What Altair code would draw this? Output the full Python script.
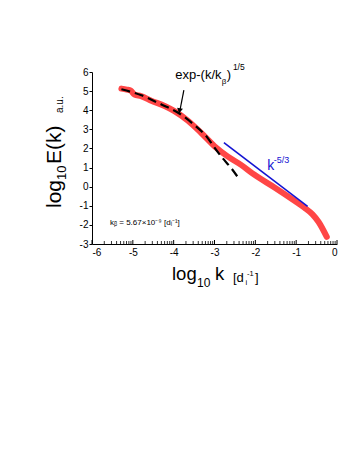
import altair as alt
import pandas as pd
import numpy as np

FONT = "Liberation Sans"

# measured spectrum (red)
red_x = [-5.28, -5.15, -5.05, -4.96, -4.80, -4.55, -4.22, -3.98, -3.65, -3.33, -3.00,
         -2.67, -2.35, -2.02, -1.53, -1.04, -0.80, -0.60, -0.45, -0.25]
red_y = [5.13, 5.08, 5.02, 4.82, 4.74, 4.50, 4.22, 3.95, 3.45, 2.82, 2.12,
         1.57, 1.14, 0.62, -0.04, -0.74, -1.10, -1.45, -1.85, -2.63]

# stretched-exponential fit (black dashed)
fit_x = [-5.28, -4.79, -4.30, -3.86, -3.49, -3.16, -3.00, -2.80, -2.59, -2.41]
fit_y = [5.10, 4.78, 4.30, 3.83, 3.22, 2.53, 2.04, 1.49, 0.97, 0.44]

# k^-5/3 reference line (blue)
ref_x = [-2.77, -0.72]
ref_y = [2.30, -1.03]

x_major = [-6, -5, -4, -3, -2, -1, 0]
y_major = [-3, -2, -1, 0, 1, 2, 3, 4, 5, 6]
x_minor = [d + np.log10(n) for d in [-6, -5, -4, -3, -2, -1] for n in range(2, 10)]

W, H = 245, 172
BLUE = "#1414d2"
xs = alt.Scale(domain=[-6, 0], nice=False, zero=False)
ys = alt.Scale(domain=[-3, 6], nice=False, zero=False)

red_df = pd.DataFrame({"x": red_x, "y": red_y, "o": range(len(red_x))})
fit_df = pd.DataFrame({"x": fit_x, "y": fit_y, "o": range(len(fit_x))})
ref_df = pd.DataFrame({"x": ref_x, "y": ref_y})

X_AX = alt.Axis(values=x_major, labelExpr="'' + datum.value", ticks=False,
                domainColor="black", labelColor="black", labelFont=FONT, labelFontSize=10,
                labelPadding=3, labelOverlap=False, title=None, grid=False)
Y_AX = alt.Axis(values=y_major, labelExpr="'' + datum.value", tickSize=3, tickColor="black",
                domainColor="black", labelColor="black", labelFont=FONT, labelFontSize=10,
                labelPadding=1, labelOverlap=False, title=None, grid=False)

NX = alt.X("x:Q", scale=xs, axis=X_AX)
NY = alt.Y("y:Q", scale=ys, axis=Y_AX)

red = alt.Chart(red_df).mark_line(color="#ff4646", strokeWidth=6, strokeCap="round",
                                  interpolate="monotone").encode(x=NX, y=NY, order="o:Q")

fit = alt.Chart(fit_df).mark_line(color="black", strokeWidth=2.2, strokeDash=[9, 5],
                                  interpolate="monotone").encode(x=NX, y=NY, order="o:Q")

ref = alt.Chart(ref_df).mark_line(color=BLUE, strokeWidth=1.6).encode(x=NX, y=NY)

minor = alt.Chart(pd.DataFrame({"x": x_minor})).mark_rule(color="black", strokeWidth=0.8).encode(
    x=NX, y=alt.value(H), y2=alt.value(H - 3))
major = alt.Chart(pd.DataFrame({"x": x_major})).mark_rule(color="black", strokeWidth=1).encode(
    x=NX, y=alt.value(H), y2=alt.value(H - 4))


def txt(s, x, y, size, color="black", angle=0):
    return alt.Chart(pd.DataFrame({"x": [x], "y": [y]})).mark_text(
        text=s, font=FONT, fontSize=size, color=color, align="left", baseline="alphabetic",
        angle=angle).encode(x=NX, y=NY)


def ptxt(s, x, y, size, color="black", angle=0):
    return alt.Chart(pd.DataFrame({"x": [0]})).mark_text(
        text=s, font=FONT, fontSize=size, color=color, align="left", baseline="alphabetic",
        angle=angle).encode(x=alt.value(x), y=alt.value(y))


ann = [
    txt("exp-(k/k", -3.96, 5.62, 13),
    txt("β", -2.82, 5.38, 8),
    txt(")", -2.70, 5.62, 13),
    txt("1/5", -2.55, 6.12, 8.5),
    txt("k", -1.71, 0.87, 14, BLUE),
    txt("-5/3", -1.55, 1.25, 9, BLUE),
    txt("kᵦ = 5.67×10⁻⁹ [dᵢ⁻¹]", -5.56, -1.98, 8),
    # x title
    ptxt("log", 80, 208, 18.5),
    ptxt("10", 105, 215, 12),
    ptxt("k", 123, 208, 18.5),
    ptxt("[d", 141, 210, 13),
    ptxt("i", 153.5, 213, 7.5),
    ptxt("-1", 155, 204, 7.5),
    ptxt("]", 163, 210, 13),
    # y title
    ptxt("log", -31, 136, 21, angle=270),
    ptxt("10", -26, 108, 13, angle=270),
    ptxt("E(k)", -31, 92, 21, angle=270),
    ptxt("a.u.", -29, 41, 10, angle=270),
]

arrow_line = alt.Chart(pd.DataFrame({"x": [-3.75], "y": [5.05], "x2": [-3.85], "y2": [3.95]})).mark_rule(
    color="black", strokeWidth=1.2).encode(x=NX, y=NY, x2="x2:Q", y2="y2:Q")
arrow_head = alt.Chart(pd.DataFrame({"x": [-3.855], "y": [3.97]})).mark_point(
    shape="triangle-down", filled=True, color="black", size=35, angle=10, opacity=1).encode(
    x=NX, y=NY)

chart = alt.layer(red, fit, ref, minor, major, arrow_line, arrow_head, *ann).properties(
    width=W, height=H,
    autosize=alt.AutoSizeParams(type="none"),
    padding={"left": 84, "top": 64, "right": 12, "bottom": 200},
).configure_view(stroke=None).configure_axis(domainWidth=1, labelOverlap=False)

chart.save("out.html", embed_options={"renderer": "svg", "actions": False})
